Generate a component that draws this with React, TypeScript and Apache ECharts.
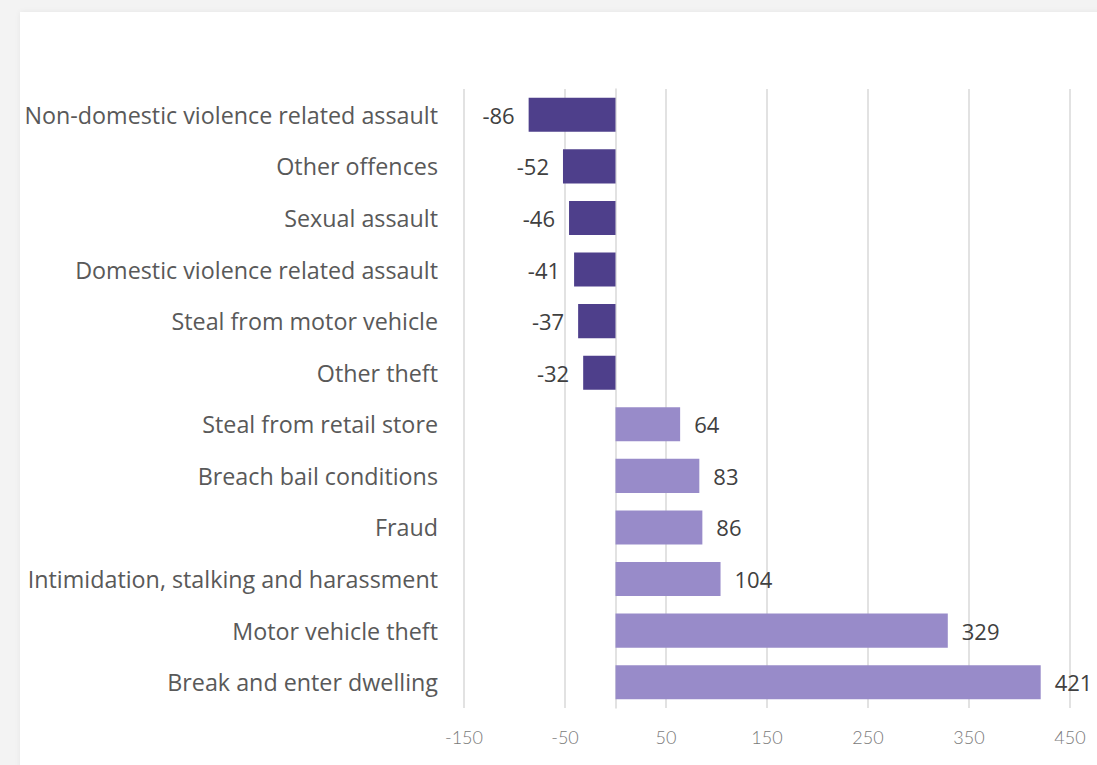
import React, { useEffect, useRef } from "react";
import * as echarts from "echarts";

const categories = [
  "Non-domestic violence related assault",
  "Other offences",
  "Sexual assault",
  "Domestic violence related assault",
  "Steal from motor vehicle",
  "Other theft",
  "Steal from retail store",
  "Breach bail conditions",
  "Fraud",
  "Intimidation, stalking and harassment",
  "Motor vehicle theft",
  "Break and enter dwelling",
];
const values = [-86, -52, -46, -41, -37, -32, 64, 83, 86, 104, 329, 421];
const axisMin = -150;
const axisMax = 450;
const axisInterval = 100;

const NEG_COLOR = "#4e3f8b";
const POS_COLOR = "#988bc9";

export default function App() {
  const ref = useRef<HTMLDivElement>(null);
  useEffect(() => {
    document.body.style.margin = "0";
    const chart = echarts.init(ref.current!, undefined, { renderer: "svg" });
    chart.setOption({
      animation: false,
      grid: { left: 464, right: 27, top: 89, bottom: 57, containLabel: false },
      xAxis: {
        type: "value",
        min: axisMin,
        max: axisMax,
        interval: axisInterval,
        axisLine: { show: false },
        axisTick: { show: false },
        splitLine: { show: true, lineStyle: { color: "#d9d9d9", width: 1.5 } },
        axisLabel: {
          color: "#7a7a7a",
          fontFamily: "Lato",
          fontWeight: 300,
          fontSize: 18,
          margin: 20,
        },
      },
      yAxis: {
        type: "category",
        data: categories,
        inverse: true,
        axisLine: { show: true, onZero: true, lineStyle: { color: "#d9d9d9", width: 1.5 } },
        axisTick: { show: false },
        axisLabel: {
          color: "#595959",
          fontFamily: "Open Sans",
          fontSize: 23.3,
          margin: 26,
        },
      },
      series: [
        {
          type: "bar",
          barCategoryGap: "34%",
          data: values.map((v) => ({
            value: v,
            itemStyle: { color: v < 0 ? NEG_COLOR : POS_COLOR },
            label: { position: v < 0 ? "left" : "right" },
          })),
          label: {
            show: true,
            color: "#404040",
            fontFamily: "Open Sans",
            fontSize: 22,
            distance: 14,
          },
        },
      ],
    });
    return () => chart.dispose();
  }, []);
  return (
    <div style={{ position: "fixed", left: 0, top: 0, width: 1097, height: 765, background: "#f3f3f3", overflow: "hidden" }}>
      <div
        style={{
          position: "absolute",
          left: 20,
          top: 12,
          width: 1100,
          height: 780,
          background: "#ffffff",
          boxShadow: "0 0 6px rgba(0,0,0,0.06)",
        }}
      />
      <div ref={ref} style={{ position: "absolute", left: 0, top: 0, width: 1097, height: 765 }} />
    </div>
  );
}
